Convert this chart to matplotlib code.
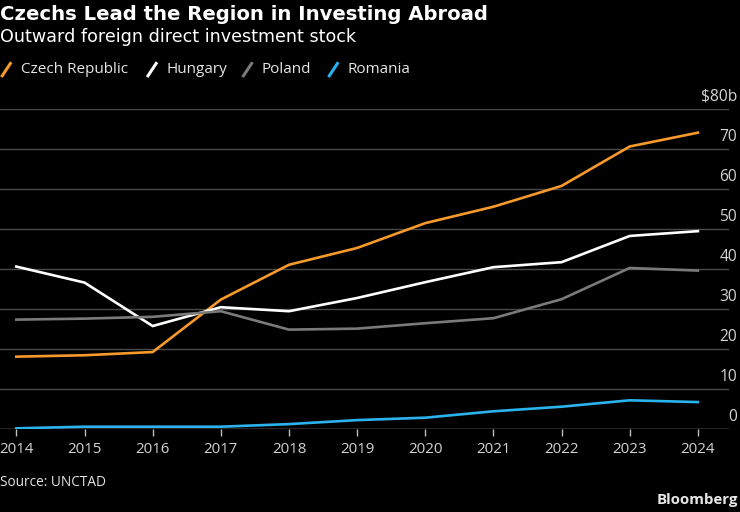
import matplotlib as mpl
mpl.use('Agg')
import matplotlib.pyplot as plt
from matplotlib.lines import Line2D

years = [2014, 2015, 2016, 2017, 2018, 2019, 2020, 2021, 2022, 2023, 2024]
czech = [18.15, 18.5, 19.3, 32.4, 41.1, 45.3, 51.5, 55.6, 60.8, 70.65, 74.1]
hungary = [40.65, 36.65, 25.8, 30.5, 29.5, 32.8, 36.75, 40.5, 41.75, 48.3, 49.5]
poland = [27.4, 27.65, 28.1, 29.5, 24.9, 25.15, 26.5, 27.75, 32.5, 40.3, 39.65]
romania = [0.25, 0.65, 0.65, 0.65, 1.3, 2.3, 2.9, 4.5, 5.65, 7.25, 6.8]

series = ['Czech Republic', 'Hungary', 'Poland', 'Romania']
colors = ['#F89A2B', '#FFFFFF', '#7A7A7A', '#2BB3EE']
y_ticks = [0, 10, 20, 30, 40, 50, 60, 70, 80]
y_labels = ['0', '10', '20', '30', '40', '50', '60', '70', '$80b']

plt.rcParams['font.family'] = ['Open Sans', 'DejaVu Sans']

fig = plt.figure(figsize=(7.4, 5.12), dpi=100, facecolor='black')
ax = fig.add_axes([0.0, 0.1615, 0.985, 0.6255])
ax.set_facecolor('black')

for vals, c in zip([czech, hungary, poland, romania], colors):
    ax.plot(years, vals, color=c, linewidth=1.9, solid_joinstyle='miter', zorder=3)

ax.set_xlim(2013.76, 2024.455)
ax.set_ylim(0, 80)

for v in y_ticks[1:]:
    ax.axhline(v, color='#4a4a4a', linewidth=1.0, zorder=1)
ax.axhline(0, color='#bdbdbd', linewidth=1.0, zorder=2)

for v, lab in zip(y_ticks, y_labels):
    ax.annotate(lab, xy=(1.011, v), xycoords=ax.get_yaxis_transform(),
                xytext=(0, 3), textcoords='offset points',
                ha='right', va='bottom', color='#d4d4d4', fontsize=11.2,
                annotation_clip=False)

ax.set_yticks([])
ax.set_xticks(years)
ax.set_xticklabels([str(y) for y in years])
ax.tick_params(axis='x', colors='#bdbdbd', length=5, width=1, pad=4,
               labelsize=10.8, labelcolor='#d4d4d4')
for s in ax.spines.values():
    s.set_visible(False)

fig.text(0.0, 0.972, 'Czechs Lead the Region in Investing Abroad',
         color='white', fontsize=14.1, fontweight='bold', va='center',
         family='DejaVu Sans')
fig.text(0.0, 0.927, 'Outward foreign direct investment stock',
         color='white', fontsize=12.6, va='center', family='DejaVu Sans')

# legend with slanted markers
leg_y = 0.864
leg_x = [0.003, 0.2, 0.329, 0.445]
for x0, name, c in zip(leg_x, series, colors):
    fig.add_artist(Line2D([x0, x0 + 0.011], [leg_y - 0.012, leg_y + 0.012],
                          color=c, linewidth=2.2, transform=fig.transFigure))
    fig.text(x0 + 0.025, leg_y, name, color='#e6e6e6', fontsize=11, va='center')

fig.text(0.0, 0.058, 'Source: UNCTAD', color='#e6e6e6', fontsize=9.8, va='center')
fig.text(0.997, 0.024, 'Bloomberg', color='#e6e6e6', fontsize=10.8, fontweight='bold',
         ha='right', va='center')

plt.savefig('out.png', dpi=100, facecolor='black')
plt.close()
